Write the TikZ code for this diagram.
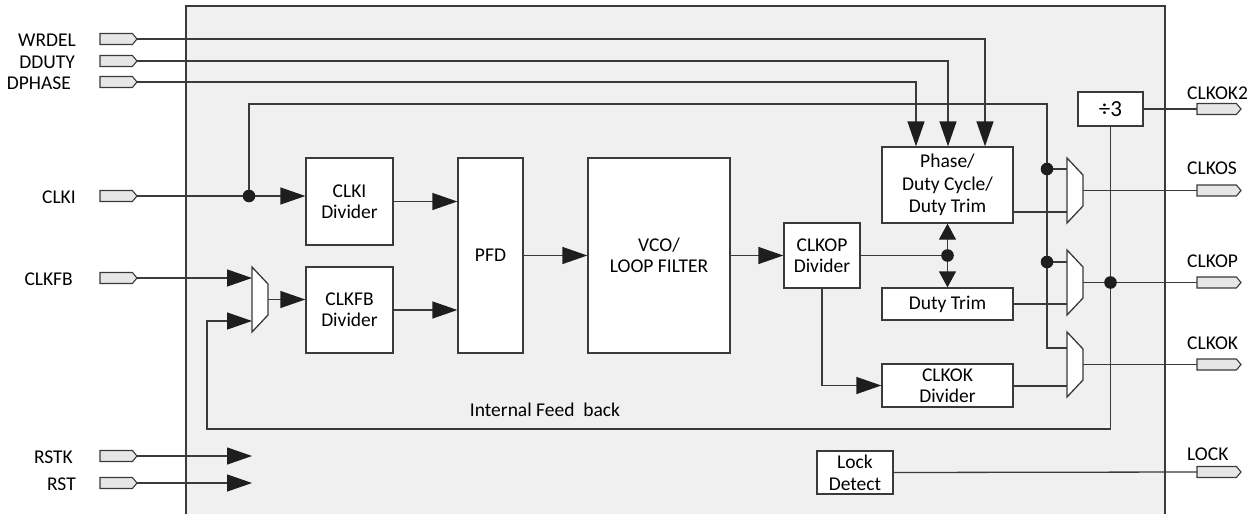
\documentclass[tikz,border=0pt]{standalone}
\usepackage{fontspec}
\setmainfont{Carlito}
\usetikzlibrary{arrows.meta,shapes.symbols,calc}
\definecolor{bg}{HTML}{F0F0F0}
\definecolor{ln}{HTML}{3A3A3A}
\definecolor{pf}{HTML}{E6E6E6}
\definecolor{ah}{HTML}{1E1E1E}
\tikzset{
  wire/.style={draw=ln, line width=1.3pt},
  arr/.style={wire, -{Triangle[length=25pt,width=17pt,color=ah]}},
  sarr/.style={wire, -{Triangle[length=16pt,width=17pt,color=ah]}},
  box/.style={draw=ln, fill=white, line width=1.3pt, align=center, inner sep=0pt,
    font=\fontsize{19.5}{21}\selectfont},
  port/.style={shape=signal, signal to=east, draw=ln, fill=pf, line width=1.1pt,
    minimum height=11pt, inner sep=0pt, outer sep=0pt, signal pointer angle=100},
  inport/.style={port, minimum width=37pt, anchor=west},
  outport/.style={port, minimum width=44pt, anchor=west},
  lbl/.style={inner sep=0pt, font=\fontsize{19.5}{21}\selectfont},
  pics/mux/.style={code={
    \draw[wire, fill=white] (0,0) -- (16,17) -- (16,48) -- (0,65) -- cycle;
    \coordinate (-in1) at (0,#1);
    \coordinate (-in2) at (0,54);
    \coordinate (-out) at (16,32.5);
  }}
}
\begin{document}
\begin{tikzpicture}[x=1pt,y=-1pt]
\clip (0,0) rectangle (1251,514);
\draw[wire, fill=bg] (186,6) rectangle (1165,560);

% input ports and labels
\node[inport] (pWRDEL) at (100,39) {};
\node[inport] (pDDUTY) at (100,61) {};
\node[inport] (pDPHASE) at (100,82) {};
\node[inport] (pCLKI) at (100,196) {};
\node[inport] (pCLKFB) at (100,278) {};
\node[inport] (pRSTK) at (100,456) {};
\node[inport] (pRST) at (100,483) {};
\node[lbl, anchor=east] (lWRDEL) at (76,40) {WRDEL};
\node[lbl, anchor=east] (lDDUTY) at (75,62) {DDUTY};
\node[lbl, anchor=east] (lDPHASE) at (71,83) {DPHASE};
\node[lbl, anchor=east] (lCLKI) at (76,197) {CLKI};
\node[lbl, anchor=east] (lCLKFB) at (73,279) {CLKFB};
\node[lbl, anchor=east] (lRSTK) at (73,457) {RSTK};
\node[lbl, anchor=east] (lRST) at (76,484) {RST};

% output ports and labels
\node[outport] (pCLKOK2) at (1197,109) {};
\node[outport] (pCLKOS) at (1197,190.5) {};
\node[outport] (pCLKOP) at (1197,282.5) {};
\node[outport] (pCLKOK) at (1197,364.5) {};
\node[outport] (pLOCK) at (1197,472) {};
\node[lbl, anchor=base west] (lCLKOK2) at (1187,99) {CLKOK2};
\node[lbl, anchor=base west] (lCLKOS) at (1187,174) {CLKOS};
\node[lbl, anchor=base west] (lCLKOP) at (1187,267) {CLKOP};
\node[lbl, anchor=base west] (lCLKOK) at (1187,349) {CLKOK};
\node[lbl, anchor=base west] (lLOCK) at (1187,460) {LOCK};

% blocks
\node[box, minimum width=87pt, minimum height=87pt] (clki) at (349.5,201.5) {CLKI\\Divider};
\node[box, minimum width=87pt, minimum height=86pt] (clkfb) at (349.5,310) {CLKFB\\Divider};
\node[box, minimum width=65pt, minimum height=195pt] (pfd) at (490.5,255.5) {PFD};
\node[box, minimum width=142pt, minimum height=195pt] (vco) at (659,255.5) {VCO/\\LOOP FILTER};
\node[box, minimum width=76pt, minimum height=65pt] (clkop) at (822,255.5) {CLKOP\\Divider};
\node[box, minimum width=131pt, minimum height=76pt, font=\fontsize{19.5}{22.5}\selectfont] (phase) at (947.5,185) {Phase/\\Duty Cycle/\\Duty Trim};
\node[box, minimum width=131pt, minimum height=32pt] (dtrim) at (947.5,304) {Duty Trim};
\node[box, minimum width=131pt, minimum height=43pt] (clkok) at (947.5,385.5) {CLKOK\\Divider};
\node[box, minimum width=65pt, minimum height=34pt, font=\fontsize{23}{24}\selectfont] (div3) at (1110.5,109) {÷3};
\node[box, minimum width=76pt, minimum height=43pt, font=\fontsize{19.5}{22}\selectfont] (lock) at (855,472.5) {Lock\\Detect};
\node[lbl] (ifb) at (545,410) {Internal Feed\ \ back};

% multiplexers
\pic (m1) at (1067,158) {mux=11};
\pic (m2) at (1067,250) {mux=12};
\pic (m3) at (1067,332) {mux=16};
\pic (mi) at (252,267) {mux=11};

% control inputs
\draw[arr] (pWRDEL.east) -| ($(phase.north)+(37.5,0)$);
\draw[arr] (pDDUTY.east) -| ($(phase.north)+(0.5,0)$);
\draw[arr] (pDPHASE.east) -| ($(phase.north)+(-31.5,0)$);

% CLKI path and bypass
\coordinate (j1) at (249,196);
\coordinate (t1) at (1047,104);
\draw[wire] (pCLKI.east) -- (j1);
\draw[arr] (j1) -- (j1 -| clki.west);
\draw[wire] (j1) |- (t1) |- (m3-in1);
\draw[wire] (m1-in1 -| t1) -- (m1-in1);
\draw[wire] (m2-in1 -| t1) -- (m2-in1);

% main chain
\draw[arr] (clki.east) -- (clki.east -| pfd.west);
\draw[arr] (pCLKFB.east) -- (mi-in1);
\draw[arr] (mi-out) -- (mi-out -| clkfb.west);
\draw[arr] (clkfb.east) -- (clkfb.east -| pfd.west);
\draw[arr] (pfd.east) -- (vco.west);
\draw[arr] (vco.east) -- (clkop.west);
\coordinate (j2) at (clkop.east -| phase.south);
\draw[wire] (clkop.east) -- (j2);
\draw[sarr] (j2) -- (phase.south);
\draw[sarr] (j2) -- (dtrim.north);
\draw[arr] (clkop.south) |- (clkok.west);

% into muxes
\draw[wire] (m1-in2 -| phase.east) -- (m1-in2);
\draw[wire] (m2-in2 -| dtrim.east) -- (m2-in2);
\draw[wire] (m3-in2 -| clkok.east) -- (m3-in2);

% outputs
\draw[wire] (m1-out) -- (pCLKOS.west);
\draw[wire] (m2-out) -- (pCLKOP.west);
\draw[wire] (m3-out) -- (pCLKOK.west);
\draw[wire] (div3.east) -- (pCLKOK2.west);
\draw[wire] (lock.east) -- (pLOCK.west);

% internal feedback
\coordinate (j3) at (m2-out -| div3.south);
\coordinate (fb1) at (1110.5,429);
\coordinate (fb2) at (207,429);
\draw[arr] (div3.south) -- (fb1) -- (fb2) |- (mi-in2);

% resets
\coordinate (rk) at (252,456);
\coordinate (rs) at (252,483);
\draw[arr] (pRSTK.east) -- (rk);
\draw[arr] (pRST.east) -- (rs);

% junction dots
\foreach \p in {j1,j2,j3} \fill[ah] (\p) circle[radius=6.3pt];
\fill[ah] (m1-in1 -| t1) circle[radius=6.3pt];
\fill[ah] (m2-in1 -| t1) circle[radius=6.3pt];
\end{tikzpicture}
\end{document}
